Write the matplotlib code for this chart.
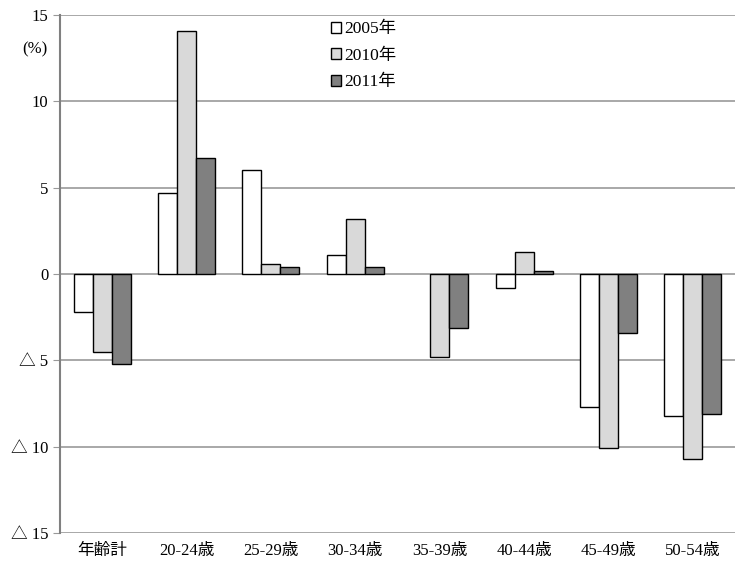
import numpy as np
import matplotlib.pyplot as plt

plt.rcParams['font.family'] = ['Liberation Serif', 'Noto Sans CJK JP']
plt.rcParams['font.size'] = 11

categories = ['年齢計', '20-24歳', '25-29歳', '30-34歳', '35-39歳', '40-44歳', '45-49歳', '50-54歳']
v2005 = [-2.2, 4.7, 6.0, 1.1, np.nan, -0.8, -7.7, -8.2]
v2010 = [-4.5, 14.1, 0.6, 3.2, -4.8, 1.3, -10.1, -10.7]
v2011 = [-5.2, 6.7, 0.4, 0.4, -3.1, 0.2, -3.4, -8.1]
series = [('2005年', v2005, 'white'), ('2010年', v2010, '#d9d9d9'), ('2011年', v2011, '#808080')]
yticks = [-15, -10, -5, 0, 5, 10, 15]
ylabels = ['△ 15', '△ 10', '△ 5', '0', '5', '10', '15']

fig = plt.figure(figsize=(7.35, 5.61), dpi=100)
ax = fig.add_axes([0.0816, 0.05, 0.9184, 0.923])

x = np.arange(len(categories))
w = 0.225
for i, (name, vals, col) in enumerate(series):
    ax.bar(x + (i - 1) * w, vals, w, color=col, edgecolor='black', linewidth=1.0,
           label=name, zorder=3)

ax.set_xlim(-0.5, len(categories) - 0.5)
ax.set_ylim(-15, 15)
ax.set_yticks(yticks)
ax.set_yticklabels(ylabels)
ax.set_xticks(x)
ax.set_xticklabels(categories)
ax.yaxis.grid(True, color='#999999', linewidth=1.2, zorder=0)
ax.tick_params(axis='y', length=5, color='#999999', labelsize=12)
ax.tick_params(axis='x', length=0, labelsize=12, pad=7)
for s in ['top', 'right', 'bottom']:
    ax.spines[s].set_visible(False)
ax.spines['left'].set_color('#808080')
ax.spines['left'].set_linewidth(1.5)

fig.text(0.03, 0.905, '(%)', fontsize=12)

ax.legend(loc='upper left', bbox_to_anchor=(0.378, 1.018), frameon=False,
          handlelength=0.6, handleheight=0.6, handletextpad=0.15,
          labelspacing=0.6, fontsize=12.5)

fig.savefig('out.png', dpi=100)
